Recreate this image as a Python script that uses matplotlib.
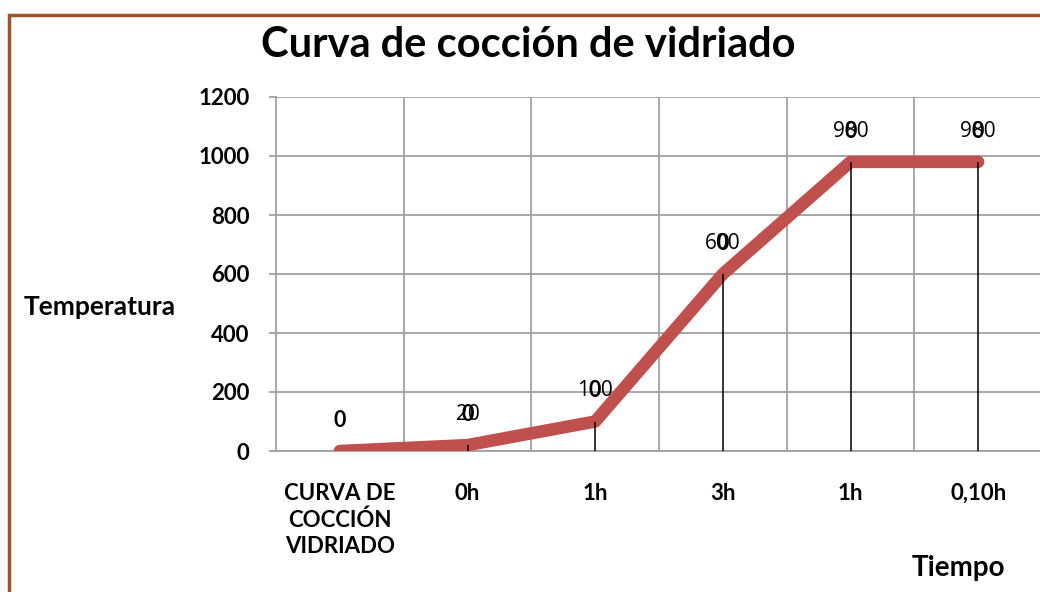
import matplotlib.pyplot as plt
from matplotlib.patches import Rectangle

categorias = ["CURVA DE\nCOCCIÓN\nVIDRIADO", "0h", "1h", "3h", "1h", "0,10h"]
temperaturas = [0, 20, 100, 600, 980, 980]
serie_cero = [0, 0, 0, 0, 0, 0]
ticks_y = [0, 200, 400, 600, 800, 1000, 1200]

plt.rcParams['font.family'] = ['Lato', 'DejaVu Sans']

fig = plt.figure(figsize=(10.4, 5.92), dpi=100)
ax = fig.add_axes([276 / 1040, 1 - 451 / 592, 766 / 1040, 354 / 592])

x = list(range(len(categorias)))
ax.plot(x, temperaturas, color='#C0504D', lw=9, solid_capstyle='round', zorder=3)
ax.vlines(x, 0, temperaturas, color='black', lw=1.1, zorder=4)

for xi, v, v2 in zip(x, temperaturas, serie_cero):
    if v != 0:
        ax.annotate(str(v), (xi, v), xytext=(0, 22), textcoords='offset points',
                    ha='center', va='center', fontsize=15, color='black',
                    family=['Open Sans', 'DejaVu Sans'])
    ax.annotate(str(v2), (xi, v), xytext=(0, 22), textcoords='offset points',
                ha='center', va='center', fontsize=15.5, fontweight='bold', color='black')

ax.set_xlim(-0.5, len(categorias) - 0.5)
ax.set_ylim(0, 1200)
ax.set_yticks(ticks_y)
ax.set_xticks(x)
ax.set_xticklabels(categorias, fontsize=16, fontweight='bold', va='top', linespacing=1.3)
ax.set_xticks([i - 0.5 for i in range(1, len(categorias) + 1)], minor=True)
ax.tick_params(axis='x', which='major', length=0, pad=23)
ax.tick_params(axis='x', which='minor', length=0)
ax.tick_params(axis='y', length=5, color='#A0A0A0', width=1.3, pad=14, labelsize=16)
for t in ax.get_yticklabels():
    t.set_fontweight('bold')

ax.grid(True, axis='y', color='#A0A0A0', lw=1.3)
ax.grid(True, axis='x', which='minor', color='#A0A0A0', lw=1.3)
ax.set_axisbelow(True)
for s in ['top', 'right']:
    ax.spines[s].set_visible(False)
for s in ['left', 'bottom']:
    ax.spines[s].set_color('#A0A0A0')
    ax.spines[s].set_linewidth(1.3)

fig.text(528 / 1040, 1 - 45 / 592, "Curva de cocción de vidriado", ha='center', va='center',
         fontsize=30, fontweight='bold')
fig.text(100 / 1040, 1 - 307 / 592, "Temperatura", ha='center', va='center',
         fontsize=19, fontweight='bold')
fig.text(1005 / 1040, 1 - 568 / 592, "Tiempo", ha='right', va='center',
         fontsize=20, fontweight='bold')

fig.patches.append(Rectangle((9 / 1040, -0.1), 1.2, 1 - 15 / 592 + 0.1, transform=fig.transFigure,
                             fill=False, edgecolor='#A0522D', lw=2.5))

fig.savefig('out.png', dpi=100)
